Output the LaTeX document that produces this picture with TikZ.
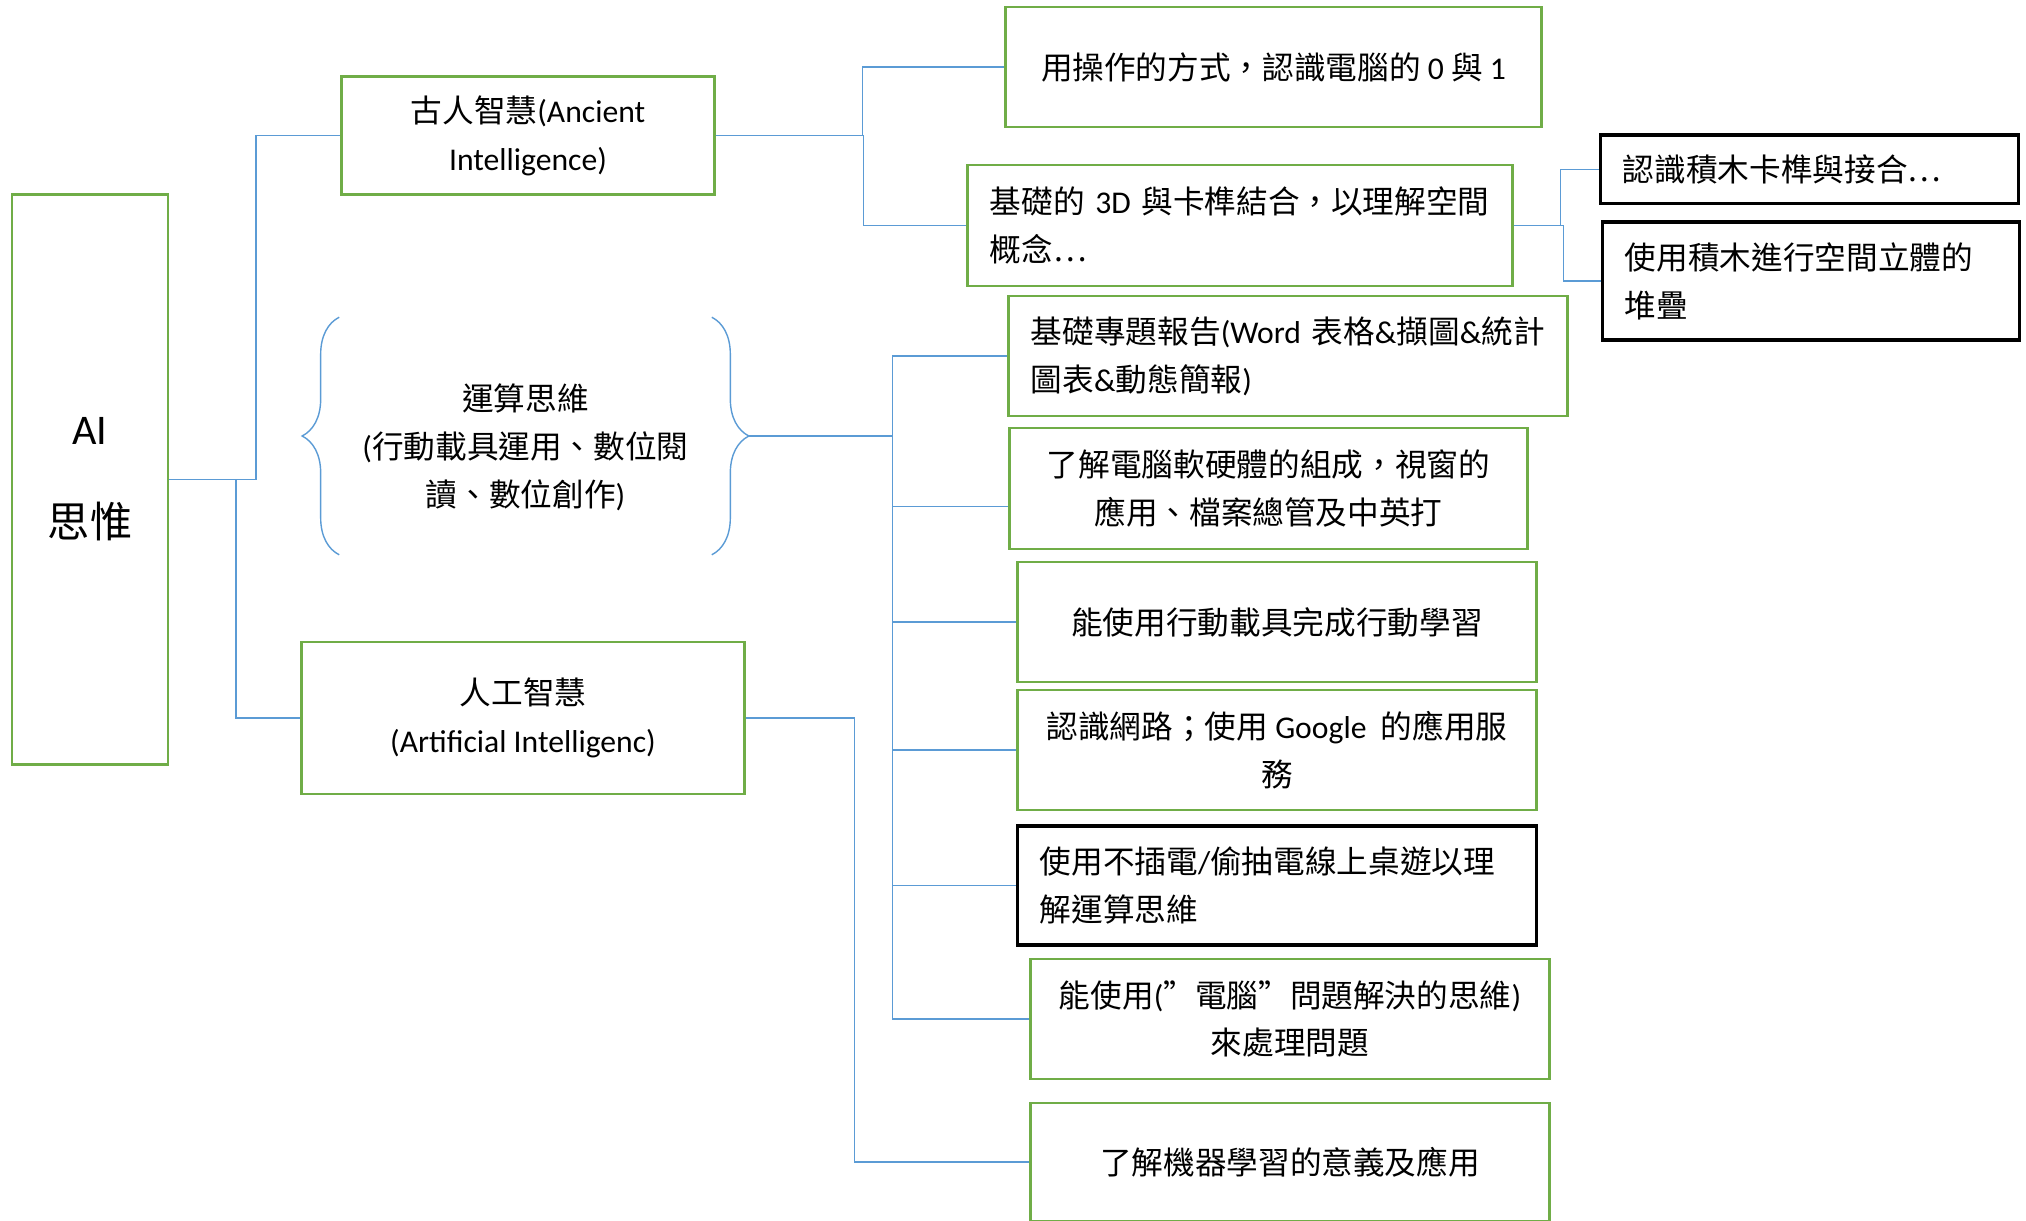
\documentclass[tikz,border=0pt]{standalone}
\usepackage{fontspec}
\setmainfont{Carlito}
\newfontfamily\cjk{Noto Sans CJK TC}
\usetikzlibrary{decorations.pathreplacing}

\definecolor{boxgreen}{HTML}{70AD47}
\definecolor{linkblue}{HTML}{5B9BD5}

\XeTeXinterchartokenstate=1
\newXeTeXintercharclass\CJKcls
\newcount\cjkc
\newcommand\setcjkrange[2]{\cjkc=#1\relax
  \loop \XeTeXcharclass\cjkc=\CJKcls \ifnum\cjkc<#2\relax \advance\cjkc by 1 \repeat}
\setcjkrange{"3000}{"303F}
\setcjkrange{"4E00}{"9FFF}
\setcjkrange{"FF00}{"FFEF}
\XeTeXcharclass"201C=\CJKcls
\XeTeXcharclass"201D=\CJKcls
\XeTeXcharclass"2026=\CJKcls
\XeTeXinterchartoks 0 \CJKcls = {\cjk}
\XeTeXinterchartoks 4095 \CJKcls = {\cjk}
\XeTeXinterchartoks \CJKcls 0 = {\rmfamily}
\XeTeXinterchartoks \CJKcls 4095 = {\rmfamily}

\begin{document}
\begin{tikzpicture}[x=0.01cm, y=-0.01cm,
    font=\fontsize{9pt}{13.6pt}\selectfont,
    gbox/.style={draw=boxgreen, line width=0.8pt, align=center, inner sep=0pt},
    kbox/.style={draw=black, line width=0.9pt, inner sep=0pt},
    lefttext/.style={align=left, inner xsep=0.22cm, inner ysep=0pt},
    link/.style={draw=linkblue, line width=0.4pt},
    curly/.style={draw=linkblue, line width=0.4pt, decorate, decoration={brace, amplitude=0.37cm}}]
    \useasboundingbox (0,0) rectangle (2026,1220);

    \node [gbox, minimum width=1.56cm, minimum height=5.69cm, font=\fontsize{12pt}{26.4pt}\selectfont] (ai) at (90,479.5) {AI\\思惟};

    \node [gbox, minimum width=3.72cm, minimum height=1.18cm] (anc) at (528,135.75) {古人智慧(Ancient\\Intelligence)};
    \node [align=center, minimum width=3.71cm, minimum height=2.36cm, inner sep=0pt] (comp) at (525.5,447) {運算思維\\(行動載具運用、數位閱\\讀、數位創作)};
    \node [gbox, minimum width=4.42cm, minimum height=1.52cm] (aint) at (523,718) {人工智慧\\(Artificial Intelligenc)};

    \draw [curly] ([yshift=0.11cm]comp.south west) -- ([yshift=0.11cm]comp.north west);
    \draw [curly] ([yshift=0.11cm]comp.north east) -- ([yshift=0.11cm]comp.south east);
    \coordinate (comptip) at ([xshift=0.36cm, yshift=0.11cm]comp.east);

    \node [gbox, minimum width=5.35cm, minimum height=1.2cm] (b1) at (1273.5,67) {用操作的方式，認識電腦的 0 與 1};
    \node [gbox, lefttext, text width=5.0cm, minimum height=1.21cm] (b2) at (1240,225.5) {基礎的~3D~與卡榫結合，以理解空間\\概念…};
    \node [kbox, lefttext, text width=3.73cm, minimum height=0.685cm] (b3) at (1809.5,169.25) {認識積木卡榫與接合…};
    \node [kbox, lefttext, text width=3.72cm, minimum height=1.18cm] (b4) at (1811,281) {使用積木進行空間立體的\\堆疊};

    \node [gbox, lefttext, text width=5.14cm, minimum height=1.2cm] (c1) at (1288,356) {基礎專題報告(Word~表格\&擷圖\&統計\\圖表\&動態簡報)};
    \node [gbox, minimum width=5.17cm, minimum height=1.21cm] (c2) at (1268.5,488.5) {了解電腦軟硬體的組成，視窗的\\應用、檔案總管及中英打};
    \node [gbox, minimum width=5.18cm, minimum height=1.2cm] (c3) at (1277,622) {能使用行動載具完成行動學習};
    \node [gbox, minimum width=5.18cm, minimum height=1.2cm] (c4) at (1277,750) {認識網路；使用 Google\ \ 的應用服\\務};
    \node [kbox, lefttext, text width=4.74cm, minimum height=1.19cm] (c5) at (1277,885.5) {使用不插電/偷抽電線上桌遊以理\\解運算思維};
    \node [gbox, minimum width=5.18cm, minimum height=1.2cm] (c6) at (1290,1019) {能使用(”電腦”問題解決的思維)\\來處理問題};
    \node [gbox, minimum width=5.18cm, minimum height=1.18cm] (c7) at (1290,1162) {了解機器學習的意義及應用};

    \draw [link] (ai.east) -- ++(86.5,0) |- (anc.west);
    \draw [link] (ai.east) -- ++(66.5,0) |- (aint.west);

    \draw [link] (anc.east) -- ++(147,0) |- (b1.west);
    \draw [link] (anc.east) -- ++(148,0) |- (b2.west);

    \draw [link] (b2.east) -- ++(47,0) |- (b3.west);
    \draw [link] (b2.east) -- ++(50,0) |- (b4.west);

    \draw [link] (comptip) -- ++(144.5,0) |- (c1.west);
    \draw [link] (comptip) -- ++(144.5,0) |- ([yshift=-0.18cm]c2.west);
    \draw [link] (comptip) -- ++(144.5,0) |- (c3.west);
    \draw [link] (comptip) -- ++(144.5,0) |- (c4.west);
    \draw [link] (comptip) -- ++(144.5,0) |- (c5.west);
    \draw [link] (comptip) -- ++(144.5,0) |- (c6.west);

    \draw [link] (aint.east) -- ++(109,0) |- (c7.west);
\end{tikzpicture}
\end{document}
